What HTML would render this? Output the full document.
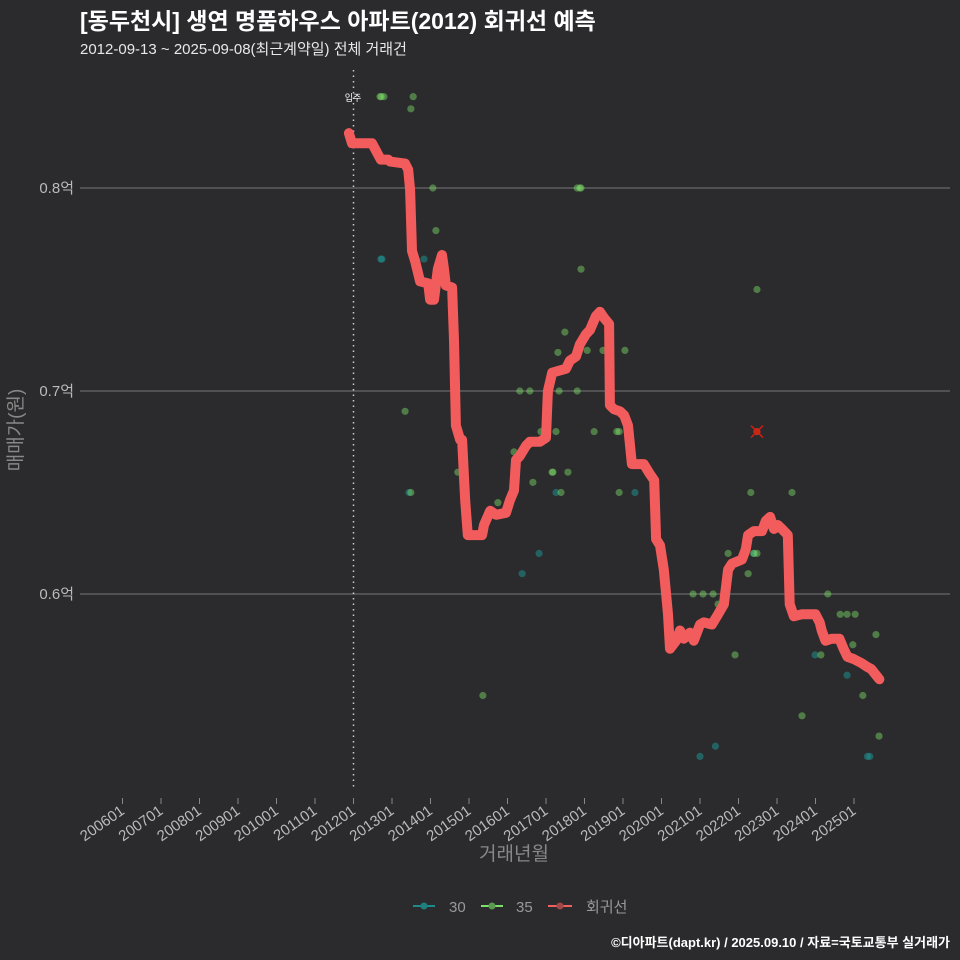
<!DOCTYPE html>
<html><head><meta charset="utf-8">
<style>
html,body{margin:0;padding:0;background:#2b2a2c;overflow:hidden;}
svg{display:block;}
svg text{font-family:"Liberation Sans","Noto Sans CJK KR",sans-serif;}
</style></head>
<body>
<svg id="chart" width="960" height="960" viewBox="0 0 960 960" xmlns="http://www.w3.org/2000/svg">
<rect width="960" height="960" fill="#2b2a2c"/>
<text x="80" y="29" font-size="23" font-weight="bold" fill="#ffffff">[동두천시] 생연 명품하우스 아파트(2012) 회귀선 예측</text>
<text x="80" y="54" font-size="15" fill="#e8e8e8">2012-09-13 ~ 2025-09-08(최근계약일) 전체 거래건</text>
<g id="grid"></g>
<g id="xaxis"></g>
<g id="yaxis"></g>
<g id="points"></g>
<g id="reg"></g>
<text x="353" y="101" font-size="9" fill="#ffffff" text-anchor="middle">입주</text>
<text transform="translate(22,430) rotate(-90)" font-size="19" fill="#888" text-anchor="middle">매매가(원)</text>
<text x="514" y="860" font-size="19" fill="#888" text-anchor="middle">거래년월</text>
<g>
 <g><line x1="413" y1="906" x2="435" y2="906" stroke="#1f8a8a" stroke-width="2"/><circle cx="424" cy="906" r="3.5" fill="#1f7f7f"/><text x="449" y="912" font-size="15" fill="#999">30</text></g>
 <g><line x1="481" y1="906" x2="503" y2="906" stroke="#7ee06a" stroke-width="2"/><circle cx="492" cy="906" r="3.5" fill="#5a9a50"/><text x="516" y="912" font-size="15" fill="#999">35</text></g>
 <g><line x1="548" y1="906" x2="572" y2="906" stroke="#f06060" stroke-width="2"/><circle cx="560" cy="906" r="3.5" fill="#a04848"/><text x="586" y="912" font-size="15" fill="#999">회귀선</text></g>
</g>
<text x="950" y="947" font-size="13" font-weight="bold" fill="#ffffff" text-anchor="end">©디아파트(dapt.kr) / 2025.09.10 / 자료=국토교통부 실거래가</text>
</svg>
<script>
const xTickLabels=["200601","200701","200801","200901","201001","201101","201201","201301","201401","201501","201601","201701","201801","201901","202001","202101","202201","202301","202401","202501"];
const yTicks=[0.6,0.7,0.8];
const yTickLabels=["0.6억","0.7억","0.8억"];
const regT=[2011.88,2011.96,2012.48,2012.71,2012.90,2012.95,2013.34,2013.42,2013.47,2013.52,2013.60,2013.73,2013.94,2013.99,2014.09,2014.19,2014.30,2014.35,2014.40,2014.56,2014.61,2014.66,2014.77,2014.82,2014.90,2014.97,2015.34,2015.39,2015.55,2015.70,2015.96,2016.06,2016.17,2016.22,2016.32,2016.48,2016.58,2016.84,2017.00,2017.05,2017.16,2017.52,2017.62,2017.78,2017.88,2018.04,2018.14,2018.30,2018.40,2018.51,2018.64,2018.66,2018.77,2018.92,2019.03,2019.13,2019.23,2019.54,2019.70,2019.81,2019.86,2019.96,2020.06,2020.17,2020.22,2020.38,2020.48,2020.58,2020.74,2020.84,2021.00,2021.10,2021.31,2021.47,2021.62,2021.73,2021.83,2022.09,2022.19,2022.25,2022.40,2022.61,2022.71,2022.82,2022.92,2023.02,2023.13,2023.28,2023.33,2023.44,2023.64,2024.00,2024.11,2024.16,2024.26,2024.42,2024.62,2024.73,2024.83,2024.99,2025.19,2025.35,2025.45,2025.66];
const regV=[0.827,0.822,0.822,0.814,0.814,0.813,0.812,0.809,0.799,0.769,0.764,0.754,0.753,0.745,0.745,0.760,0.767,0.760,0.752,0.751,0.725,0.683,0.676,0.676,0.646,0.629,0.629,0.634,0.641,0.639,0.640,0.646,0.651,0.666,0.668,0.673,0.675,0.675,0.677,0.700,0.709,0.711,0.715,0.717,0.723,0.728,0.730,0.737,0.739,0.736,0.733,0.693,0.691,0.690,0.688,0.683,0.664,0.664,0.659,0.656,0.627,0.624,0.612,0.590,0.573,0.577,0.582,0.578,0.581,0.577,0.585,0.586,0.585,0.590,0.595,0.612,0.615,0.617,0.622,0.629,0.631,0.631,0.636,0.638,0.632,0.634,0.632,0.629,0.595,0.589,0.590,0.590,0.586,0.582,0.577,0.578,0.578,0.573,0.569,0.568,0.566,0.564,0.563,0.558];
const pt30T=[2012.71,2012.74,2013.83,2013.44,2016.82,2016.38,2017.26,2019.31,2022.40,2021.00,2021.40,2023.99,2024.82,2025.41,2025.35];
const pt30V=[0.765,0.765,0.765,0.650,0.620,0.610,0.650,0.650,0.620,0.520,0.525,0.570,0.560,0.520,0.520];
const pt35T=[2012.69,2012.72,2012.79,2013.55,2013.49,2014.06,2014.14,2017.88,2017.91,2017.81,2017.91,2013.34,2013.49,2014.71,2015.75,2015.36,2017.49,2017.31,2018.48,2019.05,2016.32,2016.66,2017.34,2017.81,2016.87,2017.26,2018.25,2018.84,2018.90,2017.16,2017.18,2017.57,2016.17,2017.39,2018.90,2021.73,2022.40,2022.48,2022.25,2022.32,2023.39,2020.82,2021.08,2021.34,2021.47,2021.91,2024.32,2024.64,2024.82,2025.03,2024.97,2024.14,2025.57,2023.65,2025.23,2025.65,2022.48,2016.58,2018.07];
const pt35V=[0.845,0.845,0.845,0.845,0.839,0.800,0.779,0.800,0.800,0.800,0.760,0.690,0.650,0.660,0.645,0.550,0.729,0.719,0.720,0.720,0.700,0.655,0.700,0.700,0.680,0.680,0.680,0.680,0.680,0.660,0.660,0.660,0.670,0.650,0.650,0.620,0.620,0.620,0.610,0.650,0.650,0.600,0.600,0.600,0.595,0.570,0.600,0.590,0.590,0.590,0.575,0.570,0.580,0.540,0.550,0.530,0.750,0.700,0.720];
const outlierT=[2022.48];
const outlierV=[0.680];

const NS="http://www.w3.org/2000/svg";
function xs(t){return 122.5+(t-2006)*38.5;}
function ys(v){return 188+(0.8-v)*2030;}
function mk(tag,attrs,parent){const e=document.createElementNS(NS,tag);for(const k in attrs)e.setAttribute(k,attrs[k]);parent.appendChild(e);return e;}
const grid=document.getElementById('grid'),xa=document.getElementById('xaxis'),ya=document.getElementById('yaxis');
yTicks.forEach((v,i)=>{
 const l=mk('line',{x1:80,x2:950,y1:ys(v),y2:ys(v),stroke:'#777','stroke-width':1},grid);
 
 
 const t=mk('text',{x:74,y:ys(v)+5,'font-size':15,fill:'#bbb','text-anchor':'end'},ya);
 t.textContent=yTickLabels[i];
 
 
});
const moveIn=mk('line',{x1:xs(2012),x2:xs(2012),y1:70,y2:790,stroke:'#cccccc','stroke-width':1.5,'stroke-dasharray':'1.5,4'},grid);


xTickLabels.forEach((s,i)=>{
 const x=xs(2006+i);
 const tk=mk('line',{x1:x,x2:x,y1:798,y2:804,stroke:'#888','stroke-width':1},xa);
 
 
 const t=mk('text',{transform:`translate(${x+3},${813}) rotate(-35)`,'font-size':15,fill:'#bbb','text-anchor':'end'},xa);
 t.textContent=s;
 
 
});
const pts=document.getElementById('points');
pt30T.forEach((t,i)=>{
 const c=mk('circle',{cx:xs(t),cy:ys(pt30V[i]),r:3.6,fill:'#1f8f8f','fill-opacity':0.55},pts);
 
 
});
pt35T.forEach((t,i)=>{
 const c=mk('circle',{cx:xs(t),cy:ys(pt35V[i]),r:3.6,fill:'#7ee06a','fill-opacity':0.45},pts);
 
 
});
outlierT.forEach((t,i)=>{
 const x=xs(t),y=ys(outlierV[i]);
 const g=mk('g',{},pts);
 
 
 mk('circle',{cx:x,cy:y,r:3.6,fill:'#c03020'},g);
 mk('path',{d:`M${x-6},${y-6}L${x+6},${y+6}M${x-6},${y+6}L${x+6},${y-6}`,stroke:'#d02010','stroke-width':1.5},g);
});
const reg=document.getElementById('reg');
const d=regT.map((t,i)=>(i?'L':'M')+xs(t).toFixed(1)+','+ys(regV[i]).toFixed(1)).join('');
const p=mk('path',{d:d,fill:'none',stroke:'#f25c5c','stroke-width':10,'stroke-linejoin':'round','stroke-linecap':'round'},reg);


</script>
</body></html>
